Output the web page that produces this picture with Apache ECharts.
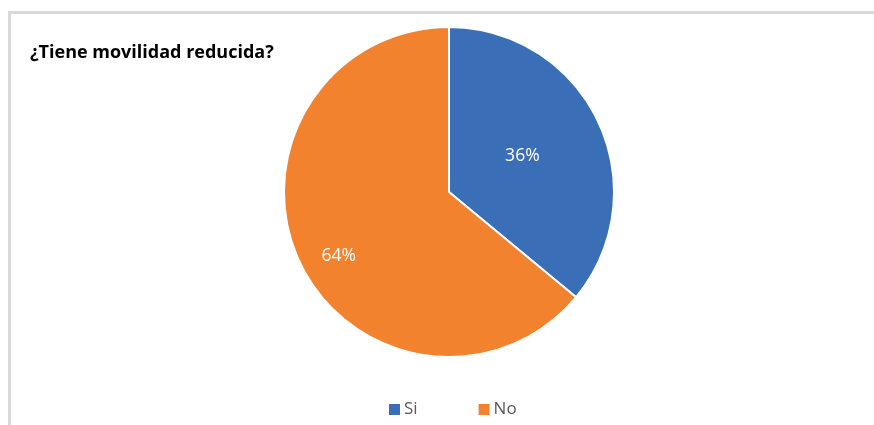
<!DOCTYPE html>
<html>
<head>
<meta charset="utf-8">
<script src="https://cdn.jsdelivr.net/npm/echarts@6/dist/echarts.min.js"></script>
<style>
  html, body { margin: 0; padding: 0; background: #ffffff; }
  #chart { width: 874px; height: 425px; }
</style>
</head>
<body>
<div id="chart"></div>
<script>
// Survey answers: share of respondents with reduced mobility
const categories = ['Si', 'No'];
const values = [36, 64];
const colors = ['#3A6FB8', '#F3822F'];
// Per-slice label nudges, in pixels
const labelOffsets = [[-4, 0], [-33, 28]];

const chart = echarts.init(document.getElementById('chart'), null, { renderer: 'canvas' });

chart.setOption({
  animation: false,
  backgroundColor: '#ffffff',
  graphic: [
    // frame lines along top and left edges
    { type: 'rect', shape: { x: 8, y: 11, width: 866, height: 3 }, style: { fill: '#d9d9d9' }, silent: true },
    { type: 'rect', shape: { x: 8, y: 11, width: 3, height: 414 }, style: { fill: '#d9d9d9' }, silent: true }
  ],
  title: {
    text: '¿Tiene movilidad reducida?',
    left: 25,
    top: 39,
    textStyle: { fontFamily: 'Open Sans', fontWeight: 'bold', fontSize: 18, color: '#000000' }
  },
  legend: {
    data: categories,
    top: 396,
    left: 382,
    itemWidth: 13,
    itemHeight: 13,
    itemGap: 59,
    icon: 'rect',
    textStyle: { fontFamily: 'Open Sans', fontSize: 17, color: '#595959', padding: [0, 0, 0, -2] }
  },
  series: [{
    type: 'pie',
    center: [449, 192],
    radius: [0, 165],
    startAngle: 90,
    clockwise: true,
    itemStyle: { borderColor: '#ffffff', borderWidth: 2 },
    label: {
      show: true,
      position: 'inside',
      formatter: '{c}%',
      fontFamily: 'Open Sans',
      fontSize: 17.5,
      color: '#ffffff'
    },
    labelLine: { show: false },
    emphasis: { disabled: true },
    data: categories.map((name, i) => ({
      name: name,
      value: values[i],
      itemStyle: { color: colors[i] },
      label: { offset: labelOffsets[i] }
    }))
  }]
});
</script>
</body>
</html>
